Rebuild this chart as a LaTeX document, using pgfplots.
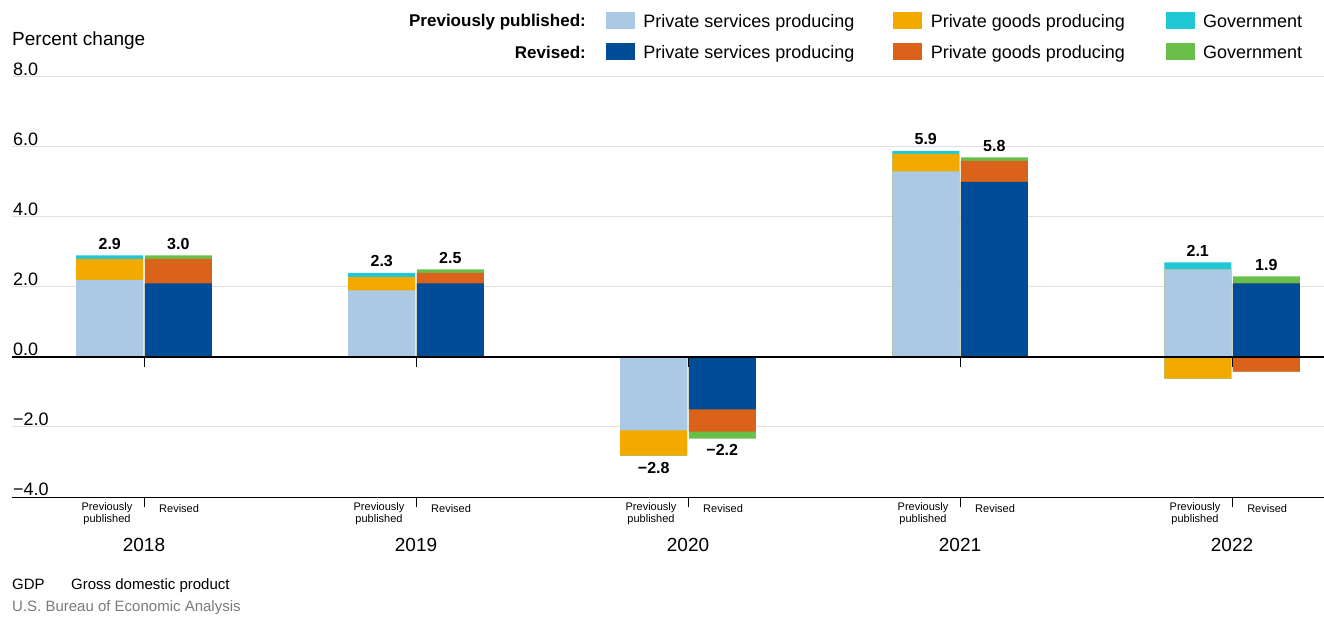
\documentclass[border=0pt]{standalone}
\usepackage{fontspec}
\setmainfont{Liberation Sans}
\usepackage{pgfplots}
\usepackage{pgfplotstable}
\pgfplotsset{compat=1.18}
\definecolor{ppsvc}{HTML}{ABC8E5}
\definecolor{ppgds}{HTML}{F2A900}
\definecolor{ppgov}{HTML}{1FC8D4}
\definecolor{rvsvc}{HTML}{004C97}
\definecolor{rvgds}{HTML}{DA621A}
\definecolor{rvgov}{HTML}{6ABF4B}
\definecolor{gridgray}{HTML}{E0E0E0}
\definecolor{srcgray}{HTML}{7A7A7A}
\pgfplotsset{swatch/.style={legend image code/.code={\fill[#1] (0pt,-6.2pt) rectangle (28pt,9.8pt); \path (37pt,0pt);}}}

% cumulative tops of the stacked segments (s = services, sg = services+goods, t = total)
% positive part and negative part separately
\pgfplotstableread{
x      s    sg    t     ns    nsg    nt
-0.126 2.2  2.8   2.9   0     0      0
0.874  1.9  2.28  2.4   0     0      0
1.874  0    0     0    -2.1  -2.82  -2.82
2.874  5.3  5.8   5.88  0     0      0
3.874  2.5  2.5   2.7   0    -0.62  -0.62
}\pp
\pgfplotstableread{
x      s    sg    t     ns    nsg    nt
0.126  2.1  2.8   2.9   0     0      0
1.126  2.1  2.4   2.5   0     0      0
2.126  0    0     0    -1.5  -2.13  -2.33
3.126  5.0  5.6   5.7   0     0      0
4.126  2.1  2.1   2.3   0    -0.42  -0.42
}\rv

\begin{document}
\begin{tikzpicture}
\useasboundingbox (0,0) rectangle (1324pt,616pt);
\begin{axis}[
  at={(12pt,119pt)}, anchor=south west,
  scale only axis, width=1312pt, height=420pt,
  xmin=-0.4853, xmax=4.3382, ymin=-4, ymax=8,
  axis x line*=bottom, axis y line*=left,
  x axis line style={black, line width=1pt, -},
  y axis line style={draw=none, -},
  xtick={0,1,2,3,4}, xticklabels={},
  xtick style={black, line width=1pt},
  ytick={-4,-2,0,2,4,6,8},
  yticklabels={−4.0,−2.0,0.0,2.0,4.0,6.0,8.0},
  ytick style={draw=none},
  tick align=outside, major tick length=10pt,
  ymajorgrids, grid style={gridgray, line width=1pt},
  yticklabel style={anchor=south west, inner sep=0pt, xshift=11pt, yshift=1pt, font=\fontsize{18}{18}\selectfont},
  clip=false,
  legend columns=3,
  legend cell align=left,
  legend style={at={(0.4527,1.1548)}, anchor=north west, draw=none, fill=none,
    inner sep=0pt, outer sep=0pt, column sep=0pt, row sep=13.75pt,
    font=\fontsize{18}{18}\selectfont, nodes={inner sep=0pt}},
]
\addlegendimage{swatch=ppsvc}\addlegendentry{\makebox[250pt][l]{Private services producing}}
\addlegendimage{swatch=ppgds}\addlegendentry{\makebox[235pt][l]{Private goods producing}}
\addlegendimage{swatch=ppgov}\addlegendentry{Government}
\addlegendimage{swatch=rvsvc}\addlegendentry{\makebox[250pt][l]{Private services producing}}
\addlegendimage{swatch=rvgds}\addlegendentry{\makebox[235pt][l]{Private goods producing}}
\addlegendimage{swatch=rvgov}\addlegendentry{Government}

\pgfplotsset{mybar/.style={ybar, bar width=67pt, bar shift=0pt, draw=none, fill=#1, forget plot}}
% previously published
\addplot[mybar=ppgov] table[x=x,y=t]{\pp};
\addplot[mybar=ppgds] table[x=x,y=sg]{\pp};
\addplot[mybar=ppsvc] table[x=x,y=s]{\pp};
\addplot[mybar=ppgov] table[x=x,y=nt]{\pp};
\addplot[mybar=ppgds] table[x=x,y=nsg]{\pp};
\addplot[mybar=ppsvc] table[x=x,y=ns]{\pp};
% revised
\addplot[mybar=rvgov] table[x=x,y=t]{\rv};
\addplot[mybar=rvgds] table[x=x,y=sg]{\rv};
\addplot[mybar=rvsvc] table[x=x,y=s]{\rv};
\addplot[mybar=rvgov] table[x=x,y=nt]{\rv};
\addplot[mybar=rvgds] table[x=x,y=nsg]{\rv};
\addplot[mybar=rvsvc] table[x=x,y=ns]{\rv};

% zero line and its ticks
\draw[black, line width=1.2pt] (axis cs:-0.4853,0) -- (axis cs:4.3382,0);
\draw[black, line width=1pt] (axis cs:0,0) -- ++(0pt,-10pt);
\draw[black, line width=1pt] (axis cs:1,0) -- ++(0pt,-10pt);
\draw[black, line width=1pt] (axis cs:2,0) -- ++(0pt,-10pt);
\draw[black, line width=1pt] (axis cs:3,0) -- ++(0pt,-10pt);
\draw[black, line width=1pt] (axis cs:4,0) -- ++(0pt,-10pt);

% value labels
\tikzset{vl/.style={font=\bfseries\fontsize{16}{16}\selectfont, inner sep=0pt}}
\node[vl, anchor=south, yshift=6pt] at (axis cs:-0.126,2.9) {2.9};
\node[vl, anchor=south, yshift=6pt] at (axis cs:0.126,2.9) {3.0};
\node[vl, anchor=south, yshift=6pt] at (axis cs:0.874,2.4) {2.3};
\node[vl, anchor=south, yshift=6pt] at (axis cs:1.126,2.5) {2.5};
\node[vl, anchor=north, yshift=-6pt] at (axis cs:1.874,-2.82) {−2.8};
\node[vl, anchor=north, yshift=-6pt] at (axis cs:2.126,-2.33) {−2.2};
\node[vl, anchor=south, yshift=6pt] at (axis cs:2.874,5.88) {5.9};
\node[vl, anchor=south, yshift=6pt] at (axis cs:3.126,5.7) {5.8};
\node[vl, anchor=south, yshift=6pt] at (axis cs:3.874,2.7) {2.1};
\node[vl, anchor=south, yshift=6pt] at (axis cs:4.126,2.3) {1.9};

% category labels
\tikzset{sl/.style={font=\fontsize{11}{12}\selectfont, inner sep=0pt, align=center, anchor=north, yshift=-5pt},
         yl/.style={font=\fontsize{19}{19}\selectfont, inner sep=0pt, anchor=center, yshift=-48pt}}
\node[sl] at (axis cs:-0.136,-4) {Previously\\published};
\node[sl, yshift=-2pt] at (axis cs:0.129,-4) {Revised};
\node[sl] at (axis cs:0.864,-4) {Previously\\published};
\node[sl, yshift=-2pt] at (axis cs:1.129,-4) {Revised};
\node[sl] at (axis cs:1.864,-4) {Previously\\published};
\node[sl, yshift=-2pt] at (axis cs:2.129,-4) {Revised};
\node[sl] at (axis cs:2.864,-4) {Previously\\published};
\node[sl, yshift=-2pt] at (axis cs:3.129,-4) {Revised};
\node[sl] at (axis cs:3.864,-4) {Previously\\published};
\node[sl, yshift=-2pt] at (axis cs:4.129,-4) {Revised};
\node[yl] at (axis cs:0,-4) {2018};
\node[yl] at (axis cs:1,-4) {2019};
\node[yl] at (axis cs:2,-4) {2020};
\node[yl] at (axis cs:3,-4) {2021};
\node[yl] at (axis cs:4,-4) {2022};
\end{axis}

% titles and notes
\node[anchor=base west, inner sep=0pt, font=\fontsize{19}{19}\selectfont] at (12pt,570pt) {Percent change};
\node[anchor=base east, inner sep=0pt, font=\bfseries\fontsize{17}{17}\selectfont] at (586pt,589pt) {Previously published:};
\node[anchor=base east, inner sep=0pt, font=\bfseries\fontsize{17}{17}\selectfont] at (586pt,557pt) {Revised:};
\node[anchor=base west, inner sep=0pt, font=\fontsize{15}{15}\selectfont] at (12pt,27pt) {GDP};
\node[anchor=base west, inner sep=0pt, font=\fontsize{15}{15}\selectfont] at (71pt,27pt) {Gross domestic product};
\node[anchor=base west, inner sep=0pt, font=\fontsize{15}{15}\selectfont, text=srcgray] at (12pt,5pt) {U.S. Bureau of Economic Analysis};
\end{tikzpicture}
\end{document}
